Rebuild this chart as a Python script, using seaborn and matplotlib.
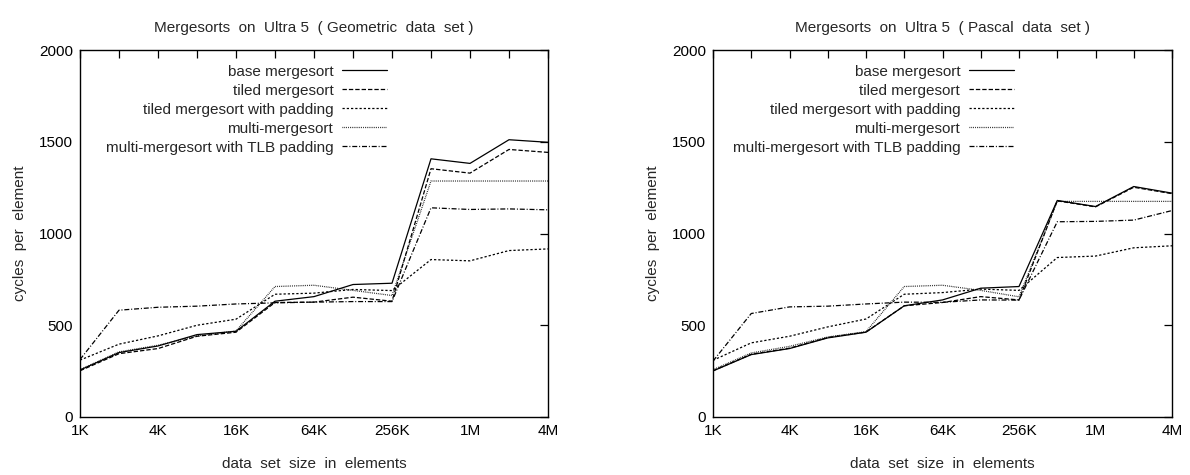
import matplotlib
matplotlib.use("Agg")
import matplotlib.pyplot as plt
import seaborn as sns

# data set sizes, 1K .. 4M elements
sizes = [1024 * 2 ** i for i in range(13)]
tick_sizes = [1024 * 4 ** i for i in range(7)]
tick_labels = ["1K", "4K", "16K", "64K", "256K", "1M", "4M"]

names = ["base mergesort", "tiled mergesort", "tiled mergesort with padding",
         "multi-mergesort", "multi-mergesort with TLB padding"]

# Geometric data set (cycles per element)
geo_base = [256, 351, 387, 449, 467, 631, 656, 722, 729, 1407, 1382, 1511, 1497]
geo_tiled = [252, 345, 373, 440, 462, 624, 626, 653, 631, 1353, 1329, 1458, 1442]
geo_pad = [310, 397, 442, 500, 533, 669, 675, 695, 689, 858, 851, 907, 916]
geo_multi = [258, 355, 391, 442, 469, 711, 718, 690, 662, 1286, 1286, 1286, 1286]
geo_tlb = [313, 582, 598, 604, 616, 622, 626, 629, 629, 1140, 1131, 1134, 1129]

# Pascal data set
pas_base = [251, 340, 373, 431, 462, 606, 638, 702, 711, 1180, 1147, 1256, 1220]
pas_tiled = [252, 342, 375, 433, 463, 606, 624, 656, 638, 1178, 1145, 1252, 1217]
pas_pad = [309, 404, 440, 491, 534, 669, 678, 697, 690, 869, 877, 922, 933]
pas_multi = [258, 349, 385, 436, 465, 711, 718, 690, 655, 1175, 1175, 1175, 1175]
pas_tlb = [305, 564, 600, 604, 616, 626, 625, 638, 637, 1064, 1066, 1073, 1125]

styles = ["-", (0, (3.5, 1.6)), (0, (1.8, 1.6)), (0, (0.6, 0.9)), (0, (4, 1.5, 0.8, 1.5))]

sns.set_style("white")
plt.rcParams["font.family"] = ["Liberation Sans", "DejaVu Sans"]
fs = 11

fig = plt.figure(figsize=(11.9, 4.75), dpi=100)
ax1 = fig.add_axes([80 / 1190, 58 / 475, 468 / 1190, 367 / 475])
ax2 = fig.add_axes([713 / 1190, 58 / 475, 459 / 1190, 367 / 475])

panels = [
    (ax1, [geo_base, geo_tiled, geo_pad, geo_multi, geo_tlb], "Geometric"),
    (ax2, [pas_base, pas_tiled, pas_pad, pas_multi, pas_tlb], "Pascal"),
]

for ax, series, dset in panels:
    for name, vals, ls in zip(names, series, styles):
        sns.lineplot(x=sizes, y=vals, ax=ax, color="black", linewidth=0.9,
                     linestyle=ls, label=name)
    ax.set_xscale("log", base=2)
    ax.set_xlim(sizes[0], sizes[-1])
    ax.set_ylim(0, 2000)
    ax.set_yticks([0, 500, 1000, 1500, 2000])
    ax.set_xticks(sizes, minor=False)
    ax.set_xticklabels([tick_labels[tick_sizes.index(s)] if s in tick_sizes else "" for s in sizes])
    ax.minorticks_off()
    ax.tick_params(direction="in", length=6, width=0.9, top=True, right=True,
                   labelsize=fs, pad=5, colors="black")
    for sp in ax.spines.values():
        sp.set_color("black")
        sp.set_linewidth(1.0)
    ax.set_title(f"Mergesorts  on  Ultra 5  ( {dset}  data  set )", fontsize=fs, pad=13)
    ax.set_xlabel("data  set  size  in  elements", fontsize=fs, labelpad=14)
    ax.set_ylabel("cycles  per  element", fontsize=fs, labelpad=9)
    ax.legend(loc="upper right", bbox_to_anchor=(0.675, 0.985), frameon=False,
              markerfirst=False, handlelength=2.9, handletextpad=0.6,
              labelspacing=0.33, fontsize=fs, borderaxespad=0.2)

fig.savefig("out.png", dpi=100)
